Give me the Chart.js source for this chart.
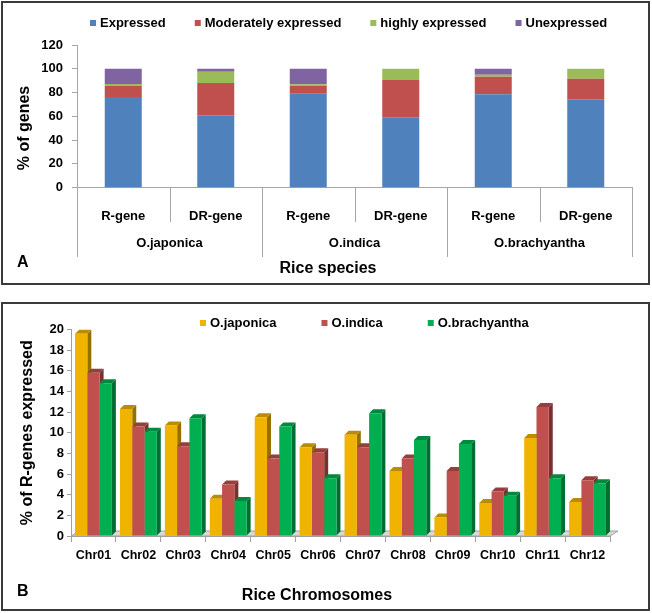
<!DOCTYPE html>
<html>
<head>
<meta charset="utf-8">
<script src="https://cdn.jsdelivr.net/npm/chart.js@4.4.1/dist/chart.umd.min.js"></script>
<style>
  body { margin: 0; background: #fff; }
  .panel { position: absolute; left: 1px; width: 649px; border: 2px solid #3a3a3a; box-sizing: border-box; background: #fff; }
  #panelA { top: 1px; height: 284px; }
  #panelB { top: 302px; height: 309px; }
  canvas { display: block; }
</style>
</head>
<body>
<div class="panel" id="panelA"><canvas id="chartA" width="645" height="280"></canvas></div>
<div class="panel" id="panelB"><canvas id="chartB" width="645" height="305"></canvas></div>
<script>
// panel A: % of genes per expression class
const speciesGroups = ['O.japonica', 'O.indica', 'O.brachyantha'];
const geneTypes = ['R-gene', 'DR-gene', 'R-gene', 'DR-gene', 'R-gene', 'DR-gene'];
const expressed = [76.2, 61, 79, 59.2, 78.5, 74.3];
const moderatelyExpressed = [9.5, 27, 6.5, 31.4, 14.9, 17.4];
const highlyExpressed = [1.4, 9.6, 1.5, 9.4, 1.6, 8.3];
const unexpressed = [12.9, 2.4, 13, 0, 5, 0];
const genesTicks = [0, 20, 40, 60, 80, 100, 120];

// panel B: % of R-genes expressed per chromosome
const chromosomes = ['Chr01', 'Chr02', 'Chr03', 'Chr04', 'Chr05', 'Chr06', 'Chr07', 'Chr08', 'Chr09', 'Chr10', 'Chr11', 'Chr12'];
const japonica = [19.6, 12.3, 10.7, 3.6, 11.5, 8.6, 9.8, 6.3, 1.8, 3.2, 9.5, 3.3];
const indica = [15.8, 10.6, 8.7, 5.0, 7.5, 8.1, 8.6, 7.5, 6.3, 4.3, 12.5, 5.4];
const brachyantha = [14.8, 10.1, 11.4, 3.4, 10.6, 5.6, 11.9, 9.3, 8.9, 3.9, 5.6, 5.1];
const chromTicks = [0, 2, 4, 6, 8, 10, 12, 14, 16, 18, 20];

const FONT = '"Liberation Sans", Arial, sans-serif';
Chart.defaults.font.family = FONT;
Chart.defaults.color = '#000';
Chart.defaults.animation = false;

// small square markers + bold labels, like the excel legend
const legendRow = {
  id: 'legendRow',
  afterDraw(chart, args, opts) {
    const ctx = chart.ctx;
    ctx.save();
    ctx.font = 'bold 13px ' + FONT;
    ctx.textBaseline = 'middle';
    let x = opts.x;
    chart.data.datasets.forEach(ds => {
      ctx.fillStyle = ds.backgroundColor;
      ctx.fillRect(x, opts.y - 3, 6, 6);
      ctx.fillStyle = '#000';
      ctx.fillText(ds.label, x + 10, opts.y);
      x += 10 + ctx.measureText(ds.label).width + opts.gap;
    });
    ctx.restore();
  }
};

// two level category axis + titles for panel A
const groupAxis = {
  id: 'groupAxis',
  afterDraw(chart) {
    const ctx = chart.ctx;
    const xs = chart.scales.x;
    const area = chart.chartArea;
    const step = (area.right - area.left) / geneTypes.length;
    ctx.save();
    ctx.strokeStyle = '#a6a6a6';
    ctx.lineWidth = 1;
    for (let i = 0; i <= geneTypes.length; i++) {
      const x = Math.round(area.left + i * step) + 0.5;
      ctx.beginPath();
      ctx.moveTo(x, area.bottom);
      ctx.lineTo(x, i % 2 === 0 ? 254 : 219);
      ctx.stroke();
    }
    ctx.fillStyle = '#000';
    ctx.font = 'bold 13px ' + FONT;
    ctx.textAlign = 'center';
    ctx.textBaseline = 'middle';
    speciesGroups.forEach((g, i) => {
      const x = (xs.getPixelForValue(i * 2) + xs.getPixelForValue(i * 2 + 1)) / 2;
      ctx.fillText(g, x, 240);
    });
    ctx.font = 'bold 16px ' + FONT;
    ctx.fillText('Rice species', 325, 266);
    // y title sits a bit lower than the plot centre in the original
    ctx.save();
    ctx.translate(22, 125);
    ctx.rotate(-Math.PI / 2);
    ctx.fillText('% of genes', 0, 0);
    ctx.restore();
    ctx.textAlign = 'left';
    ctx.fillText('A', 14, 260);
    ctx.restore();
  }
};

// fake 3d depth for panel B bars
const DEPTH = 4;
function shade(hex, f) {
  const n = parseInt(hex.slice(1), 16);
  const r = Math.round(((n >> 16) & 255) * f), g = Math.round(((n >> 8) & 255) * f), b = Math.round((n & 255) * f);
  return 'rgb(' + r + ',' + g + ',' + b + ')';
}
const bars3d = {
  id: 'bars3d',
  beforeDatasetsDraw(chart) {
    const ctx = chart.ctx;
    const area = chart.chartArea;
    const y0 = chart.scales.y.getPixelForValue(0);
    ctx.save();
    // floor
    ctx.fillStyle = '#d9d9d9';
    ctx.strokeStyle = '#a0a0a0';
    ctx.beginPath();
    ctx.moveTo(area.left, y0);
    ctx.lineTo(area.right, y0);
    ctx.lineTo(area.right + 8, y0 - 5);
    ctx.lineTo(area.left + 8, y0 - 5);
    ctx.closePath();
    ctx.fill();
    ctx.stroke();
    chart.data.datasets.forEach((ds, di) => {
      const meta = chart.getDatasetMeta(di);
      meta.data.forEach(bar => {
        const p = bar.getProps(['x', 'y', 'base', 'width']);
        const l = p.x - p.width / 2, r = p.x + p.width / 2;
        ctx.fillStyle = shade(ds.backgroundColor, 0.62);
        ctx.beginPath();
        ctx.moveTo(r, p.y);
        ctx.lineTo(r + DEPTH, p.y - DEPTH);
        ctx.lineTo(r + DEPTH, p.base - DEPTH);
        ctx.lineTo(r, p.base);
        ctx.closePath();
        ctx.fill();
        ctx.fillStyle = shade(ds.backgroundColor, 0.78);
        ctx.beginPath();
        ctx.moveTo(l, p.y);
        ctx.lineTo(l + DEPTH, p.y - DEPTH);
        ctx.lineTo(r + DEPTH, p.y - DEPTH);
        ctx.lineTo(r, p.y);
        ctx.closePath();
        ctx.fill();
      });
    });
    ctx.restore();
  },
  afterDraw(chart) {
    const ctx = chart.ctx;
    ctx.save();
    ctx.fillStyle = '#000';
    ctx.font = 'bold 16px ' + FONT;
    ctx.textAlign = 'center';
    ctx.textBaseline = 'middle';
    ctx.fillText('Rice Chromosomes', 314, 292);
    ctx.textAlign = 'left';
    ctx.fillText('B', 14, 288);
    ctx.restore();
  }
};

const ctxA = document.getElementById('chartA').getContext('2d');
const chartA = new Chart(ctxA, {
  type: 'bar',
  data: {
    labels: geneTypes,
    datasets: [
      { label: 'Expressed', data: expressed, backgroundColor: '#4f81bd' },
      { label: 'Moderately expressed', data: moderatelyExpressed, backgroundColor: '#c0504d' },
      { label: 'highly expressed', data: highlyExpressed, backgroundColor: '#9bbb59' },
      { label: 'Unexpressed', data: unexpressed, backgroundColor: '#8064a2' }
    ]
  },
  options: {
    responsive: false,
    layout: { padding: { top: 42, left: 8.4, right: 16, bottom: 0 } },
    datasets: { bar: { categoryPercentage: 1, barPercentage: 0.4 } },
    scales: {
      x: {
        stacked: true,
        grid: { display: false },
        border: { display: true, color: '#a6a6a6' },
        ticks: { font: { size: 13, weight: 'bold' }, padding: 13, maxRotation: 0 },
        afterFit: s => { s.height = 95.3; }
      },
      y: {
        stacked: true,
        min: 0,
        max: 120,
        afterBuildTicks: s => { s.ticks = genesTicks.map(v => ({ value: v })); },
        grid: { drawOnChartArea: false, tickLength: 5, color: '#a6a6a6' },
        border: { color: '#a6a6a6' },
        ticks: { font: { size: 13, weight: 'bold' }, padding: 9 },
        afterFit: s => { s.width = 65.6; }
      }
    },
    plugins: {
      legend: { display: false },
      tooltip: { enabled: false },
      legendRow: { x: 87, y: 20, gap: 29 }
    }
  },
  plugins: [legendRow, groupAxis]
});

const ctxB = document.getElementById('chartB').getContext('2d');
const chartB = new Chart(ctxB, {
  type: 'bar',
  data: {
    labels: chromosomes,
    datasets: [
      { label: 'O.japonica', data: japonica, backgroundColor: '#f0b400' },
      { label: 'O.indica', data: indica, backgroundColor: '#c0504d' },
      { label: 'O.brachyantha', data: brachyantha, backgroundColor: '#00b050' }
    ]
  },
  options: {
    responsive: false,
    layout: { padding: { top: 25.5, left: 11.4, right: 38, bottom: 0 } },
    datasets: { bar: { categoryPercentage: 0.82, barPercentage: 1 } },
    scales: {
      x: {
        grid: { offset: true, drawOnChartArea: false, tickLength: 6, color: '#a0a0a0' },
        border: { display: true, color: '#a0a0a0' },
        ticks: { font: { size: 12.5, weight: 'bold' }, padding: 6, maxRotation: 0 },
        afterFit: s => { s.height = 73; }
      },
      y: {
        min: 0,
        max: 20,
        afterBuildTicks: s => { s.ticks = chromTicks.map(v => ({ value: v })); },
        grid: { drawOnChartArea: false, tickLength: 4, color: '#a0a0a0' },
        border: { color: '#a0a0a0' },
        ticks: { font: { size: 13, weight: 'bold' }, padding: 3 },
        title: { display: true, text: '% of R-genes expressed', font: { size: 16, weight: 'bold' } },
        afterFit: s => { s.width = 56.6; }
      }
    },
    plugins: {
      legend: { display: false },
      tooltip: { enabled: false },
      legendRow: { x: 197, y: 19, gap: 45 }
    }
  },
  plugins: [legendRow, bars3d]
});
</script>
</body>
</html>
